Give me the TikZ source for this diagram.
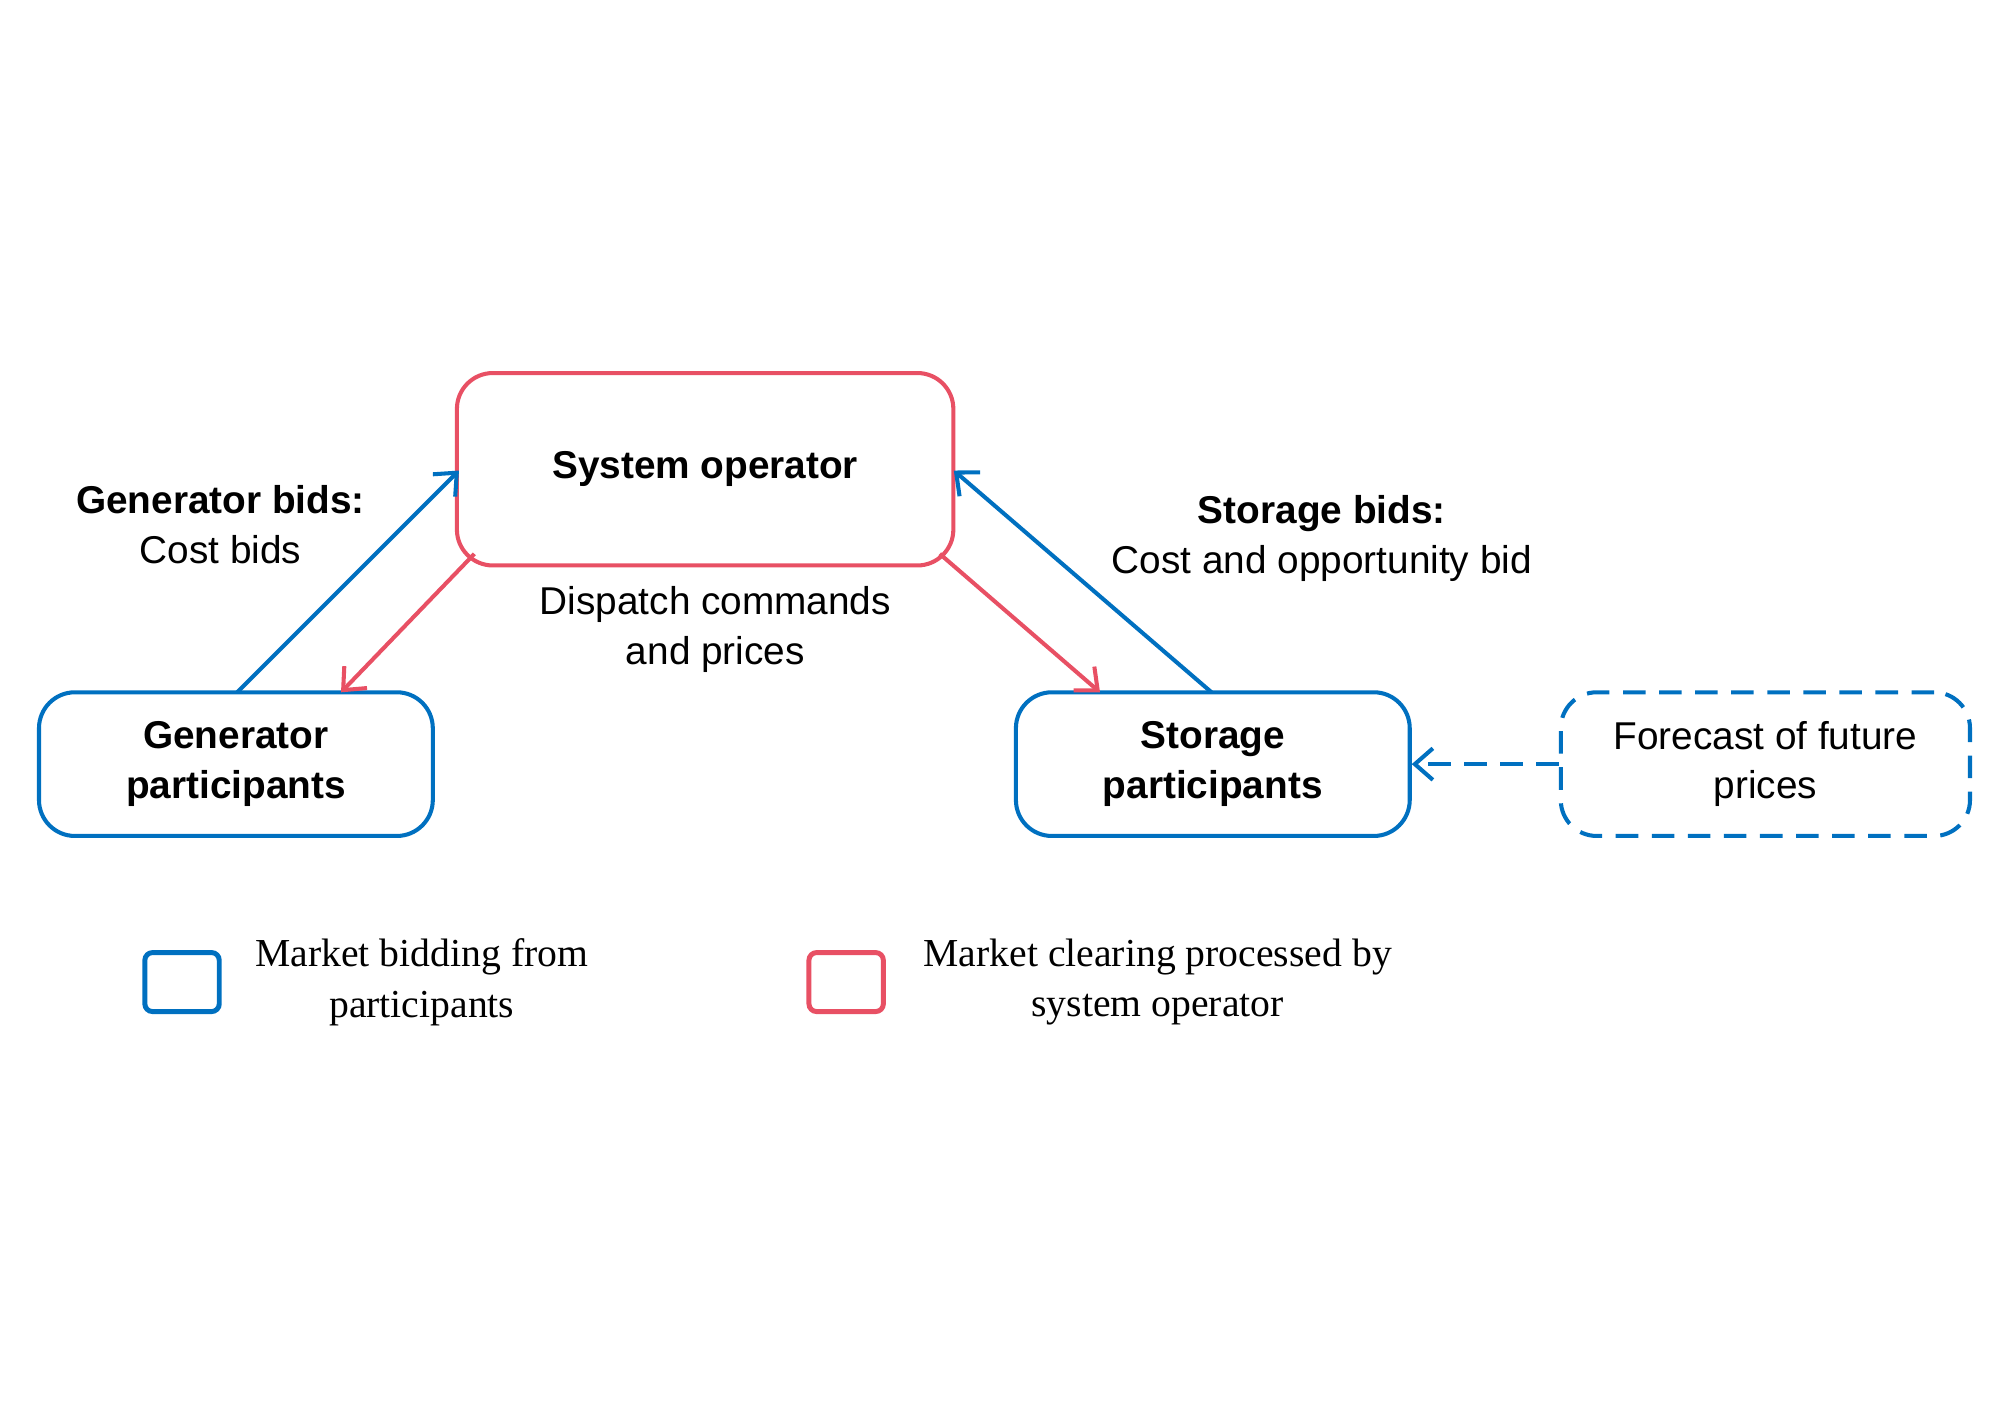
\documentclass[tikz,border=0pt]{standalone}
\usepackage{fontspec}
\setmainfont{Liberation Sans}
\newfontfamily\legfont{Liberation Serif}
\usetikzlibrary{arrows.meta}
\definecolor{cblue}{RGB}{0,112,192}
\definecolor{cred}{RGB}{232,80,100}
\begin{document}
\begin{tikzpicture}[x=0.01cm,y=-0.01cm,
  box/.style={draw,line width=0.9pt,rounded corners=0.28cm,align=center,inner sep=0pt,font=\fontsize{8.6}{11}\selectfont},
  lbl/.style={align=center,font=\fontsize{8.6}{11}\selectfont},
  leg/.style={align=center,font=\legfont\fontsize{8.8}{11.2}\selectfont},
  arr/.style={line width=0.9pt,-{Straight Barb[length=4pt,width=7pt]}}]
\path[use as bounding box] (0,0) rectangle (1560,1102);
\node[box,cred,minimum width=3.87cm,minimum height=1.5cm,text=black] (so) at (550,366) {\bfseries System operator};
\node[box,cblue,minimum width=3.07cm,minimum height=1.12cm,text=black] (gen) at (184,596) {\bfseries Generator\\\bfseries participants};
\node[box,cblue,minimum width=3.07cm,minimum height=1.12cm,text=black] (sto) at (946,596) {\bfseries Storage\\\bfseries participants};
\node[box,cblue,dashed,dash pattern=on 5pt off 3pt,minimum width=3.19cm,minimum height=1.12cm,text=black] (fc) at (1377,596) {Forecast of future\\prices};
\coordinate (g1) at (185,540); \coordinate (s1) at (358,367);
\coordinate (s2) at (370,432); \coordinate (g2) at (266,540);
\coordinate (t1) at (945,540); \coordinate (s3) at (744,367);
\coordinate (s4) at (733,432); \coordinate (t2) at (858,540);
\draw[arr,cblue] (g1) -- (s1);
\draw[arr,cred] (s2) -- (g2);
\draw[arr,cblue] (t1) -- (s3);
\draw[arr,cred] (s4) -- (t2);
\draw[arr,cblue,dashed,dash pattern=on 5pt off 3pt] (fc.west) -- (sto.east);
\node[lbl] (gb) at (172,409) {\textbf{Generator bids:}\\Cost bids};
\node[lbl] (sb) at (1031,420) {\textbf{Storage bids:}\\Cost and opportunity bid};
\node[lbl] (dc) at (558,491) {Dispatch commands\\and prices};
\node[draw=cblue,line width=1.1pt,rounded corners=0.06cm,minimum width=0.58cm,minimum height=0.46cm] (lb) at (142,766) {};
\node[leg] (lbt) at (329,766) {Market bidding from\\participants};
\node[draw=cred,line width=1.1pt,rounded corners=0.06cm,minimum width=0.58cm,minimum height=0.46cm] (lr) at (660,766) {};
\node[leg] (lrt) at (903,766) {Market clearing processed by\\system operator};
\end{tikzpicture}
\end{document}
